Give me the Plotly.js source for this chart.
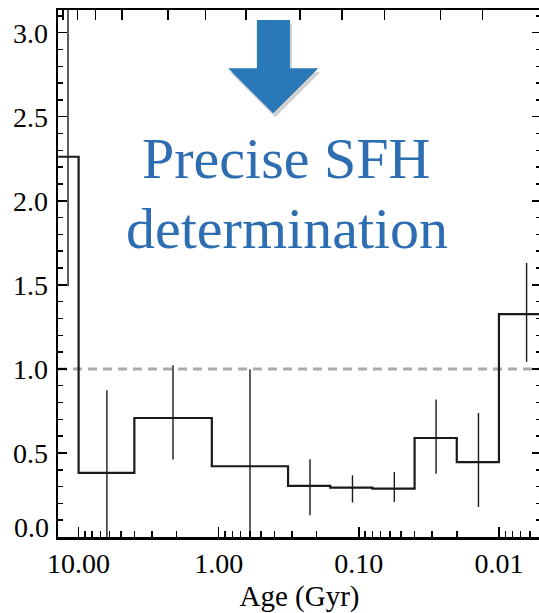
<!DOCTYPE html>
<html>
<head>
<meta charset="utf-8">
<script src="https://cdn.plot.ly/plotly-3.0.1.min.js"></script>
<style>
html,body{margin:0;padding:0;background:#fff;overflow:hidden;}
#chart{width:543px;height:613px;}
</style>
</head>
<body>
<div id="chart"></div>
<script>
// Bin edges (age in Gyr), oldest to youngest
var binEdges = [14.0, 10, 4, 1.12, 0.32, 0.16, 0.08, 0.04, 0.02, 0.01, 0.005];
// Relative SFR in each bin
var sfrValues = [2.262, 0.381, 0.708, 0.421, 0.304, 0.294, 0.288, 0.589, 0.446, 1.326];
// Error bar positions (Gyr) and sizes
var errAges = [11.9, 6.28, 2.12, 0.598, 0.223, 0.111, 0.0558, 0.0281, 0.0140, 0.00635];
var errPlus = [1.0, 0.492, 0.314, 0.577, 0.158, 0.073, 0.099, 0.229, 0.292, 0.305];
var errMinus = [0.77, 0.492, 0.247, 0.577, 0.175, 0.089, 0.080, 0.212, 0.267, 0.284];
// Axis tick labels
var xTickVals = [10, 1, 0.1, 0.01];
var xTickText = ['10.00', '1.00', '0.10', '0.01'];
var yTickVals = [0, 0.5, 1.0, 1.5, 2.0, 2.5, 3.0];
var yTickText = ['', '0.5', '1.0', '1.5', '2.0', '2.5', '3.0'];
// Top axis tick positions (Gyr)
var topTickVals = [12.94, 10.21, 7.60, 4.90, 2.31, 1.24, 0.638, 0.262, 0.1315, 0.0658, 0.0262, 0.0131];

var stepY = sfrValues.concat([sfrValues[sfrValues.length - 1]]);

// minor log ticks
var minorVals = [];
for (var d = -3; d <= 1; d++) {
  for (var m = 2; m <= 9; m++) minorVals.push(m * Math.pow(10, d));
}

var SERIF = 'Liberation Serif, Times New Roman, serif';
var xr = [Math.log10(14.03), Math.log10(0.00501)];

var traces = [
  {
    x: binEdges, y: stepY, type: 'scatter', mode: 'lines',
    line: {shape: 'hv', color: '#1a1a1a', width: 2.2},
    hoverinfo: 'skip', showlegend: false
  },
  {
    x: errAges, y: sfrValues, type: 'scatter', mode: 'markers',
    marker: {size: 1, opacity: 0},
    error_y: {type: 'data', symmetric: false, array: errPlus, arrayminus: errMinus,
              color: '#1a1a1a', thickness: 1.4, width: 0},
    hoverinfo: 'skip', showlegend: false
  },
  {
    x: [1], y: [-10], xaxis: 'x2', type: 'scatter', mode: 'markers',
    marker: {size: 1, opacity: 0}, hoverinfo: 'skip', showlegend: false
  }
];

function px(x){ return (x - 58.5) / 482; }
function py(y){ return (536.7 - y) / 526.7; }
function arrowPath(dx, dy){
  var pts = [[257,20],[290,20],[290,68.3],[318.3,68.3],[273.3,113.3],[228.3,68.3],[257,68.3]];
  return pts.map(function(p,i){ return (i===0?'M':'L') + px(p[0]+dx).toFixed(4) + ',' + py(p[1]+dy).toFixed(4); }).join(' ') + ' Z';
}

var layout = {
  width: 543, height: 613,
  margin: {l: 58, r: 2, t: 10, b: 76},
  paper_bgcolor: '#ffffff', plot_bgcolor: '#ffffff',
  showlegend: false,
  font: {family: SERIF, color: '#000', size: 28},
  xaxis: {
    type: 'log', range: xr,
    tickmode: 'array', tickvals: xTickVals, ticktext: xTickText,
    ticks: 'inside', ticklen: 10, tickwidth: 1.5, tickcolor: '#000',
    minor: {tickmode: 'array', tickvals: minorVals, ticks: 'inside', ticklen: 6, tickwidth: 1.5, tickcolor: '#000'},
    showline: true, linecolor: '#000', linewidth: 2.5, mirror: true,
    showgrid: false, zeroline: false,
    tickfont: {family: SERIF, size: 28, color: '#000'},
    ticklabelstandoff: 0,
    title: {text: 'Age (Gyr)', font: {family: SERIF, size: 29, color: '#000'}, standoff: 8}
  },
  xaxis2: {
    type: 'log', range: xr, overlaying: 'x', side: 'top', anchor: 'y',
    tickmode: 'array', tickvals: topTickVals, showticklabels: false,
    ticks: 'inside', ticklen: 10, tickwidth: 1.5, tickcolor: '#000',
    showline: false, showgrid: false, zeroline: false
  },
  yaxis: {
    range: [0, 3.135],
    tickmode: 'array', tickvals: yTickVals, ticktext: yTickText,
    ticks: 'inside', ticklen: 9, tickwidth: 1.5, tickcolor: '#000',
    minor: {dtick: 0.1, ticks: 'inside', ticklen: 5, tickwidth: 1.5, tickcolor: '#000'},
    showline: true, linecolor: '#000', linewidth: 2.5, mirror: 'ticks',
    showgrid: false, zeroline: false,
    tickfont: {family: SERIF, size: 28, color: '#000'},
    ticklabelstandoff: 2
  },
  shapes: [
    {type: 'line', xref: 'paper', yref: 'y', x0: 0, x1: 1, y0: 1.0, y1: 1.0,
     line: {color: '#ababab', width: 3, dash: '9px,6px'}, layer: 'below'},
    {type: 'path', xref: 'paper', yref: 'paper', path: arrowPath(2, 4),
     fillcolor: 'rgba(0,0,0,0.18)', line: {width: 0}},
    {type: 'path', xref: 'paper', yref: 'paper', path: arrowPath(0, 0),
     fillcolor: '#2a78b7', line: {width: 0}}
  ],
  annotations: [
    {xref: 'paper', yref: 'y', x: 0, y: 0, text: '0.0', showarrow: false,
     xanchor: 'right', yanchor: 'middle', xshift: -7, yshift: 10,
     font: {family: SERIF, size: 28, color: '#000'}},
    {xref: 'paper', yref: 'paper', x: px(286), y: py(158), text: 'Precise SFH', showarrow: false,
     xanchor: 'center', yanchor: 'middle', font: {family: SERIF, size: 58, color: '#2d6db1'}},
    {xref: 'paper', yref: 'paper', x: px(287.5), y: py(228), text: 'determination', showarrow: false,
     xanchor: 'center', yanchor: 'middle', font: {family: SERIF, size: 58, color: '#2d6db1'}}
  ]
};

Plotly.newPlot('chart', traces, layout, {displayModeBar: false, staticPlot: true});
</script>
</body>
</html>
